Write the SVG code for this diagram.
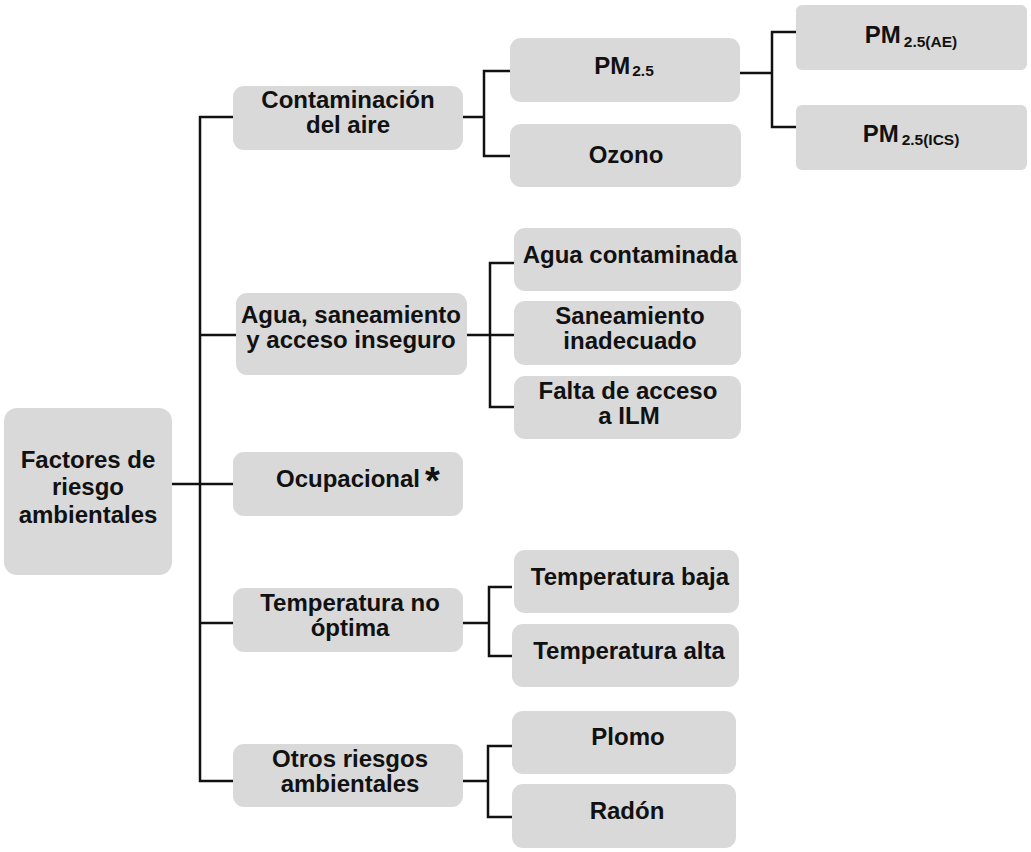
<svg xmlns="http://www.w3.org/2000/svg" width="1031" height="852" viewBox="0 0 1031 852">
<style>
.box{fill:#d9d9d9;}
.t{font-family:"Liberation Sans",Arial,sans-serif;font-weight:bold;font-size:24px;fill:#111;text-anchor:middle;}
.sub{font-size:15.5px;}
.ln{fill:none;stroke:#111;stroke-width:2.5;}
</style>
<rect width="1031" height="852" fill="#ffffff"/>
<g id="connectors" class="ln">
<path d="M233,117 H200 V781 H233"/>
<path d="M200,335 H236"/>
<path d="M172,484 H233"/>
<path d="M200,623 H233"/>
<path d="M463,117 H484 M510,71 H484 V156 H510"/>
<path d="M740,73 H772 M796,32 H772 V127 H796"/>
<path d="M467,335 H514 M514,263 H490 V407 H514"/>
<path d="M463,623 H489 M512,587 H489 V656 H512"/>
<path d="M463,781 H488 M512,746 H488 V817 H512"/>
</g>
<g id="n-factores"><rect class="box" x="4" y="408" width="168" height="167" rx="13"/>
<text class="t" x="88" y="468">Factores de</text><text class="t" x="88" y="495">riesgo</text><text class="t" x="88" y="523">ambientales</text></g>
<g id="n-contaminacion"><rect class="box" x="233" y="86" width="230" height="64" rx="11"/>
<text class="t" x="348" y="108">Contaminación</text><text class="t" x="348" y="133">del aire</text></g>
<g id="n-pm25"><rect class="box" x="510" y="38" width="230" height="64" rx="11"/>
<text class="t" x="624" y="74">PM<tspan class="sub" dx="2" dy="2">2.5</tspan></text></g>
<g id="n-ozono"><rect class="box" x="510" y="124" width="231" height="63" rx="11"/>
<text class="t" x="626" y="163">Ozono</text></g>
<g id="n-pm25ae"><rect class="box" x="796" y="5" width="231" height="65" rx="6"/>
<text class="t" x="911" y="43">PM<tspan class="sub" dx="3" dy="4">2.5(AE)</tspan></text></g>
<g id="n-pm25ics"><rect class="box" x="796" y="105" width="231" height="65" rx="6"/>
<text class="t" x="911" y="142">PM<tspan class="sub" dx="3" dy="3">2.5(ICS)</tspan></text></g>
<g id="n-agua"><rect class="box" x="236" y="293" width="231" height="82" rx="11"/>
<text class="t" x="351" y="323">Agua, saneamiento</text><text class="t" x="351" y="348">y acceso inseguro</text></g>
<g id="n-aguacont"><rect class="box" x="514" y="228" width="227" height="63" rx="11"/>
<text class="t" x="630" y="263">Agua contaminada</text></g>
<g id="n-saneamiento"><rect class="box" x="514" y="301" width="227" height="64" rx="11"/>
<text class="t" x="630" y="324">Saneamiento</text><text class="t" x="630" y="349">inadecuado</text></g>
<g id="n-falta"><rect class="box" x="514" y="376" width="227" height="63" rx="11"/>
<text class="t" x="628" y="399">Falta de acceso</text><text class="t" x="629" y="424">a ILM</text></g>
<g id="n-ocupacional"><rect class="box" x="233" y="452" width="230" height="64" rx="11"/>
<text class="t" x="276" y="487" style="text-anchor:start">Ocupacional<tspan dx="5" dy="7" style="font-size:38px">*</tspan></text></g>
<g id="n-temp"><rect class="box" x="233" y="588" width="230" height="64" rx="11"/>
<text class="t" x="350" y="611">Temperatura no</text><text class="t" x="350" y="636">óptima</text></g>
<g id="n-tempbaja"><rect class="box" x="514" y="550" width="225" height="63" rx="11"/>
<text class="t" x="630" y="585">Temperatura baja</text></g>
<g id="n-tempalta"><rect class="box" x="512" y="624" width="227" height="63" rx="11"/>
<text class="t" x="629" y="659">Temperatura alta</text></g>
<g id="n-otros"><rect class="box" x="233" y="744" width="230" height="63" rx="11"/>
<text class="t" x="350" y="767">Otros riesgos</text><text class="t" x="350" y="792">ambientales</text></g>
<g id="n-plomo"><rect class="box" x="512" y="711" width="224" height="63" rx="11"/>
<text class="t" x="628" y="745">Plomo</text></g>
<g id="n-radon"><rect class="box" x="512" y="784" width="224" height="64" rx="11"/>
<text class="t" x="627" y="819">Radón</text></g>
</svg>
